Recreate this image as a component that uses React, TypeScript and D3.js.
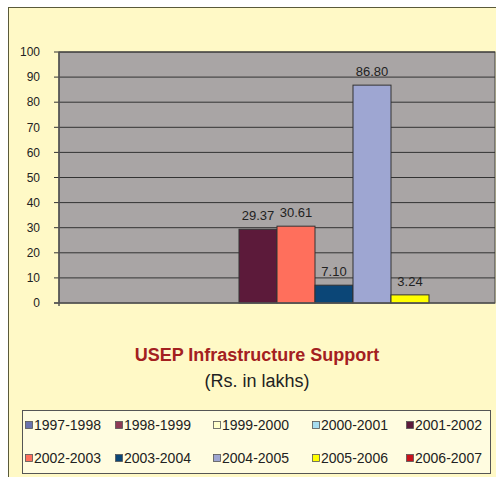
import React from "react";
import * as d3 from "d3";

const seriesNames = ["1997-1998","1998-1999","1999-2000","2000-2001","2001-2002","2002-2003","2003-2004","2004-2005","2005-2006","2006-2007"];
const seriesValues = [0, 0, 0, 0, 29.37, 30.61, 7.10, 86.80, 3.24, 0];
const seriesColors = ["#6A72AE","#8E3A55","#FFFFCC","#A6DDF0","#5C1A3A","#FF6F5C","#0B4677","#9EA6D2","#FFFF00","#C8121A"];
const yTicks = [0,10,20,30,40,50,60,70,80,90,100];
const category = ["USEP"];

const W = 496, H = 477;
const plot = { left: 59, right: 495, top: 52, bottom: 303 };
const FONT = "'Liberation Sans', Arial, sans-serif";

export default function App() {
  const y = d3.scaleLinear().domain([0, 100]).range([plot.bottom, plot.top]);
  const x0 = d3.scaleBand().domain(category).range([plot.left, plot.right]).paddingInner(0).paddingOuter(0.0737);
  const x1 = d3.scaleBand().domain(seriesNames).range([0, x0.bandwidth()]);
  const gx = x0(category[0])!;

  const legendCols = [25, 115, 213, 312, 406];
  const legendRows = [425, 458];

  return (
    <svg width={W} height={H} style={{ position: "absolute", left: 0, top: 0 }} fontFamily={FONT}>
      <rect x={0} y={0} width={W} height={H} fill="#ffffff" />
      <rect x={8.5} y={7.5} width={W} height={H} fill="#FFF9C6" stroke="#5a5a3a" strokeWidth={1} />
      <rect x={plot.left} y={plot.top} width={plot.right - plot.left} height={plot.bottom - plot.top} fill="#A9A5A5" stroke="#444" strokeWidth={1} />
      {yTicks.map(t => (
        <g key={t}>
          {t > 0 && <line x1={plot.left} x2={plot.right} y1={y(t)} y2={y(t)} stroke="#333" strokeWidth={1} />}
          <line x1={plot.left - 5} x2={plot.left} y1={y(t)} y2={y(t)} stroke="#333" strokeWidth={1} />
          <text x={40} y={y(t)} dy="0.35em" textAnchor="end" fontSize={12} fill="#222">{t}</text>
        </g>
      ))}
      <line x1={plot.left} x2={plot.left} y1={plot.top} y2={plot.bottom + 3} stroke="#555" strokeWidth={1.5} />
      {seriesNames.map((s, i) => {
        const v = seriesValues[i];
        if (v <= 0) return null;
        const bx = gx + x1(s)!;
        return (
          <g key={s}>
            <rect x={bx} y={y(v)} width={x1.bandwidth()} height={plot.bottom - y(v)} fill={seriesColors[i]} stroke="#333" strokeWidth={1} />
            <text x={bx + x1.bandwidth() / 2} y={y(v) - 9} textAnchor="middle" fontSize={13} fill="#222">{v.toFixed(2)}</text>
          </g>
        );
      })}
      <line x1={plot.left - 5} x2={plot.right} y1={plot.bottom} y2={plot.bottom} stroke="#555" strokeWidth={1.5} />
      <text x={257} y={361} textAnchor="middle" fontSize={18} fontWeight="bold" fill="#A3201F">USEP Infrastructure Support</text>
      <text x={257} y={387} textAnchor="middle" fontSize={18} fill="#222">(Rs. in lakhs)</text>
      <rect x={22.5} y={410.5} width={468} height={63} fill="#FFFCE0" stroke="#555" strokeWidth={1} />
      {seriesNames.map((s, i) => {
        const cx = legendCols[i % 5];
        const cy = legendRows[Math.floor(i / 5)];
        return (
          <g key={"l" + s}>
            <rect x={cx + 0.5} y={cy - 3.5} width={7} height={7} fill={seriesColors[i]} stroke="#555" strokeWidth={0.8} />
            <text x={cx + 9} y={cy} dy="0.35em" fontSize={14} fill="#222">{s}</text>
          </g>
        );
      })}
    </svg>
  );
}
